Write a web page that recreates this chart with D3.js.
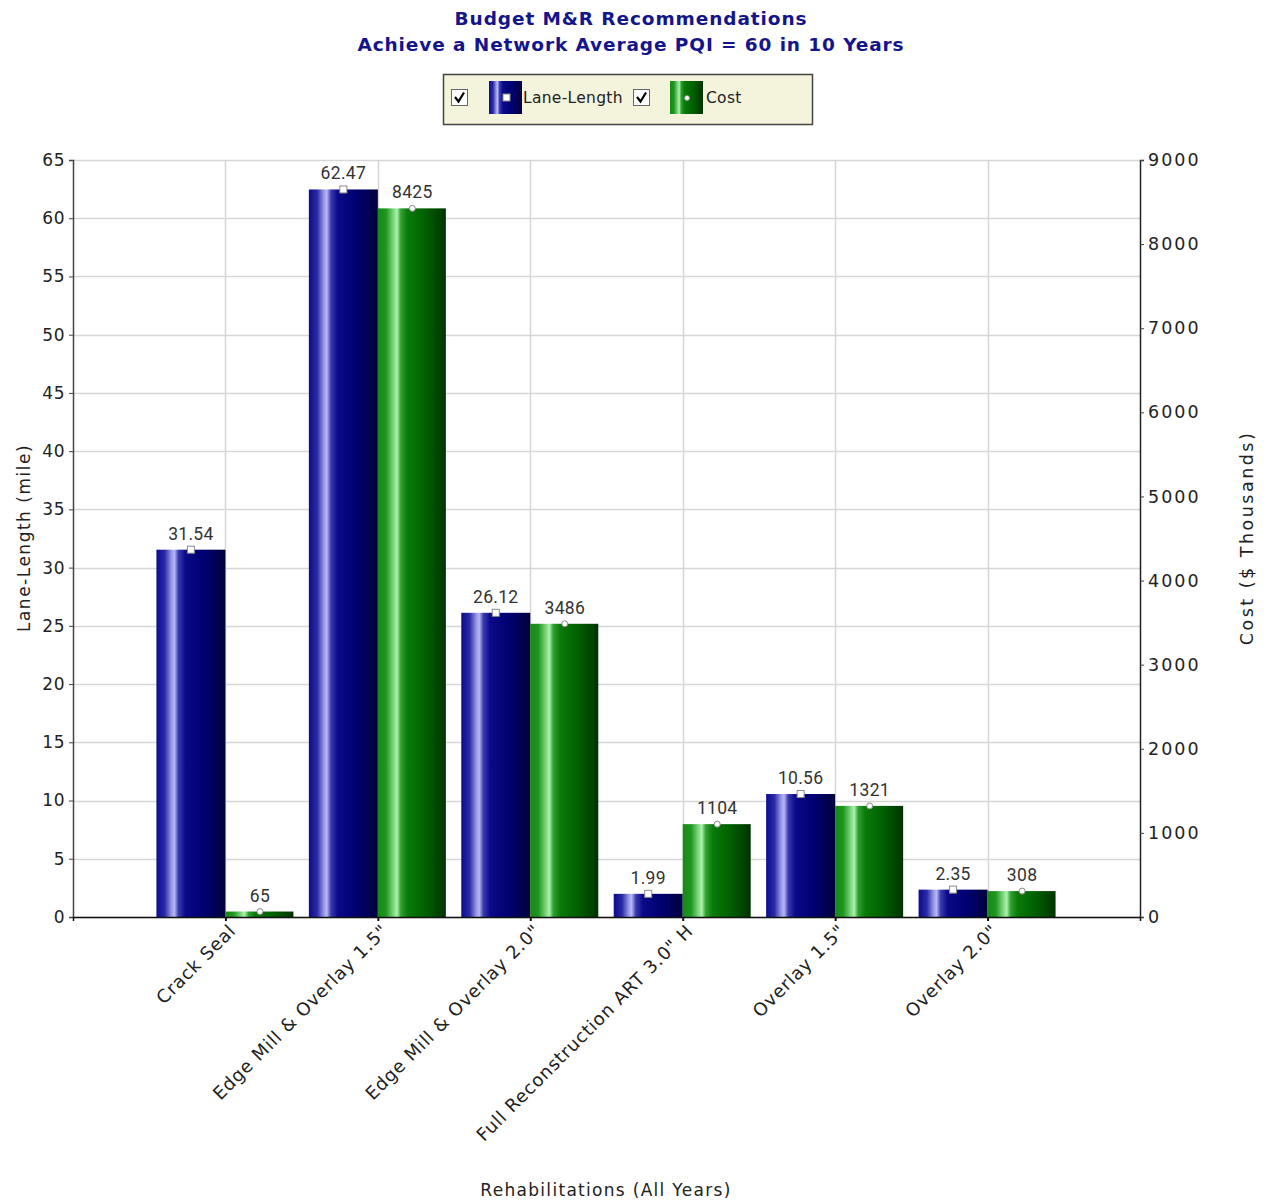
<!DOCTYPE html>
<html>
<head>
<meta charset="utf-8">
<script src="https://cdn.jsdelivr.net/npm/d3@7"></script>
<style>
body { margin:0; background:#fff; }
svg { display:block; }
</style>
</head>
<body>
<svg id="chart" width="1267" height="1203"></svg>
<script>
const categories = ["Crack Seal", "Edge Mill & Overlay 1.5\"", "Edge Mill & Overlay 2.0\"", "Full Reconstruction ART 3.0\" H", "Overlay 1.5\"", "Overlay 2.0\""];
const laneLength = [31.54, 62.47, 26.12, 1.99, 10.56, 2.35];
const cost = [65, 8425, 3486, 1104, 1321, 308];
const laneLabels = ["31.54", "62.47", "26.12", "1.99", "10.56", "2.35"];
const costLabels = ["65", "8425", "3486", "1104", "1321", "308"];
const leftTicks = [0, 5, 10, 15, 20, 25, 30, 35, 40, 45, 50, 55, 60, 65];
const rightTicks = [0, 1000, 2000, 3000, 4000, 5000, 6000, 7000, 8000, 9000];
const titleLines = ["Budget M&R Recommendations", "Achieve a Network Average PQI = 60 in 10 Years"];
const seriesNames = ["Lane-Length", "Cost"];

const svg = d3.select("#chart");
const L = 73, R = 1140, T = 160, B = 917;

const x = d3.scaleLinear().domain([0, 7]).range([L, R]);
const yL = d3.scaleLinear().domain([0, 65]).range([B, T]);
const yR = d3.scaleLinear().domain([0, 9000]).range([B, T]);

const defs = svg.append("defs");
function grad(id, stops) {
  const g = defs.append("linearGradient").attr("id", id).attr("x1", "0%").attr("x2", "100%").attr("y1", "0%").attr("y2", "0%");
  stops.forEach(s => g.append("stop").attr("offset", s[0]).attr("stop-color", s[1]));
}
grad("gBlue", [["0%", "#0c0c8c"], ["12%", "#2a2aa6"], ["22%", "#9a9ae8"], ["26%", "#b8b8f4"], ["32%", "#3a3ab0"], ["42%", "#0a0a88"], ["70%", "#000070"], ["100%", "#00003c"]]);
grad("gGreen", [["0%", "#158a15"], ["12%", "#1f961f"], ["24%", "#88dd88"], ["28%", "#aef2ae"], ["34%", "#2f9f2f"], ["44%", "#0a7a0a"], ["70%", "#006000"], ["100%", "#003300"]]);

// Title
svg.append("g").selectAll("text").data(titleLines).join("text")
  .attr("x", 631).attr("y", (d, i) => 25 + i * 26)
  .attr("text-anchor", "middle")
  .attr("font-family", "DejaVu Sans, Verdana, sans-serif")
  .attr("font-weight", "bold").attr("font-size", 18.5).attr("letter-spacing", 0.9)
  .attr("fill", "#14148c")
  .text(d => d);

// Legend
const lg = svg.append("g");
lg.append("rect").attr("x", 443.5).attr("y", 74.5).attr("width", 369).attr("height", 50)
  .attr("fill", "#f4f4dc").attr("stroke", "#444").attr("stroke-width", 1.5);
const legendItems = [
  { cb: 451, icon: 489, text: 523, fill: "url(#gBlue)", marker: "square" },
  { cb: 633, icon: 670, text: 706, fill: "url(#gGreen)", marker: "circle" }
];
legendItems.forEach((it, i) => {
  lg.append("rect").attr("x", it.cb + 0.5).attr("y", 89.5).attr("width", 16).attr("height", 16)
    .attr("fill", "#fff").attr("stroke", "#666").attr("stroke-width", 1);
  lg.append("path").attr("d", `M${it.cb + 4},${97} L${it.cb + 7.5},${101.5} L${it.cb + 13},${92.5}`)
    .attr("fill", "none").attr("stroke", "#000").attr("stroke-width", 2.2);
  lg.append("rect").attr("x", it.icon).attr("y", 81).attr("width", 33).attr("height", 33).attr("fill", it.fill);
  if (it.marker === "square") {
    lg.append("rect").attr("x", it.icon + 14).attr("y", 94).attr("width", 7).attr("height", 7)
      .attr("fill", "#fff").attr("stroke", "#888").attr("stroke-width", 1);
  } else {
    lg.append("circle").attr("cx", it.icon + 17).attr("cy", 98).attr("r", 2.5)
      .attr("fill", "#fff").attr("stroke", "#888").attr("stroke-width", 0.8);
  }
  lg.append("text").attr("x", it.text).attr("y", 103)
    .attr("font-family", "DejaVu Sans, Verdana, sans-serif").attr("font-size", 15.5).attr("letter-spacing", 0.3)
    .attr("fill", "#222").text(seriesNames[i]);
});

// Gridlines
const grid = svg.append("g");
grid.selectAll("line.h").data(leftTicks).join("line")
  .attr("x1", L).attr("x2", R).attr("y1", d => Math.round(yL(d)) + 0.5).attr("y2", d => Math.round(yL(d)) + 0.5)
  .attr("stroke", "#d6d6d6").attr("stroke-width", 1.5);
grid.selectAll("line.v").data(d3.range(1, 7)).join("line")
  .attr("y1", T).attr("y2", B).attr("x1", d => Math.round(x(d)) + 0.5).attr("x2", d => Math.round(x(d)) + 0.5)
  .attr("stroke", "#d6d6d6").attr("stroke-width", 1.5);

// Bars
const bw = 69;
const gb = svg.append("g");
gb.selectAll("rect.lane").data(laneLength).join("rect")
  .attr("x", (d, i) => x(i + 1) - bw).attr("width", bw)
  .attr("y", d => yL(d)).attr("height", d => B - yL(d))
  .attr("fill", "url(#gBlue)");
gb.selectAll("rect.cost").data(cost).join("rect")
  .attr("x", (d, i) => x(i + 1)).attr("width", bw - 1)
  .attr("y", d => yR(d)).attr("height", d => B - yR(d))
  .attr("fill", "url(#gGreen)");

// Markers
gb.selectAll("rect.mk").data(laneLength).join("rect")
  .attr("x", (d, i) => x(i + 1) - bw / 2 - 4 + 0.5).attr("y", d => yL(d) - 4 + 0.5)
  .attr("width", 7).attr("height", 7)
  .attr("fill", "#fff").attr("stroke", "#8a8a8a").attr("stroke-width", 1);
gb.selectAll("circle.mk").data(cost).join("circle")
  .attr("cx", (d, i) => x(i + 1) + bw / 2).attr("cy", d => yR(d))
  .attr("r", 3).attr("fill", "#fff").attr("stroke", "#8a8a8a").attr("stroke-width", 1);

// Value labels
const vf = "Roboto, Liberation Sans, Arial, sans-serif";
gb.selectAll("text.vl").data(laneLength).join("text")
  .attr("x", (d, i) => x(i + 1) - bw / 2).attr("y", d => yL(d) - 10)
  .attr("text-anchor", "middle").attr("font-family", vf).attr("font-size", 17.5).attr("letter-spacing", 0.3)
  .attr("fill", "#333").text((d, i) => laneLabels[i]);
gb.selectAll("text.vc").data(cost).join("text")
  .attr("x", (d, i) => x(i + 1) + bw / 2).attr("y", d => yR(d) - 10)
  .attr("text-anchor", "middle").attr("font-family", vf).attr("font-size", 17.5).attr("letter-spacing", 0.3)
  .attr("fill", "#333").text((d, i) => costLabels[i]);

// Axes
const af = "DejaVu Sans, Verdana, sans-serif";
const leftAxis = svg.append("g").attr("transform", `translate(${L},0)`)
  .call(d3.axisLeft(yL).tickValues(leftTicks).tickSize(4).tickPadding(4));
leftAxis.select(".domain").attr("stroke", "#444").attr("stroke-width", 1.5);
leftAxis.selectAll(".tick line").attr("stroke", "#444");
leftAxis.selectAll("text").attr("font-family", af).attr("font-size", 17).attr("letter-spacing", 0.5).attr("fill", "#222");

const rightAxis = svg.append("g").attr("transform", `translate(${R},0)`)
  .call(d3.axisRight(yR).tickValues(rightTicks).tickSize(4).tickPadding(4).tickFormat(d3.format("d")));
rightAxis.select(".domain").attr("stroke", "#222").attr("stroke-width", 1.5);
rightAxis.selectAll(".tick line").attr("stroke", "#444");
rightAxis.selectAll("text").attr("font-family", af).attr("font-size", 17.5).attr("letter-spacing", 2).attr("fill", "#222");

const bottomAxis = svg.append("g").attr("transform", `translate(0,${B})`)
  .call(d3.axisBottom(x).tickValues(d3.range(1, 7)).tickSize(4).tickFormat(d => categories[d - 1]));
bottomAxis.select(".domain").attr("stroke", "#111").attr("stroke-width", 1.5);
bottomAxis.selectAll(".tick line").attr("stroke", "#111").attr("stroke-width", 2);
bottomAxis.selectAll("text")
  .attr("font-family", af).attr("font-size", 18).attr("letter-spacing", 0.8).attr("fill", "#222")
  .attr("text-anchor", "end").attr("dy", null).attr("y", 0)
  .attr("transform", "translate(11,15) rotate(-45)");

// Axis titles
svg.append("text").attr("transform", "translate(30,538) rotate(-90)")
  .attr("text-anchor", "middle").attr("font-family", af).attr("font-size", 17).attr("letter-spacing", 1.5).attr("fill", "#222")
  .text("Lane-Length (mile)");
svg.append("text").attr("transform", "translate(1253,538) rotate(-90)")
  .attr("text-anchor", "middle").attr("font-family", af).attr("font-size", 17.5).attr("letter-spacing", 2.5).attr("fill", "#222")
  .text("Cost ($ Thousands)");
svg.append("text").attr("x", 606).attr("y", 1196)
  .attr("text-anchor", "middle").attr("font-family", af).attr("font-size", 17).attr("letter-spacing", 1.3).attr("fill", "#222")
  .text("Rehabilitations (All Years)");
</script>
</body>
</html>
